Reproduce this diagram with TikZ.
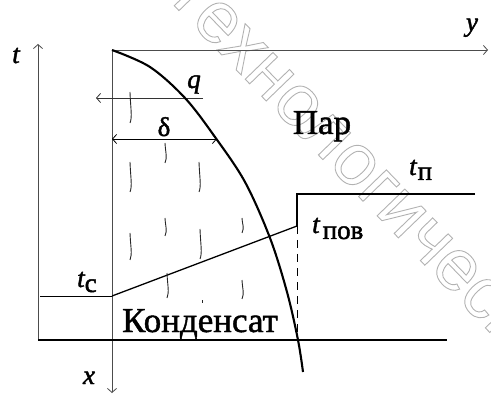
\documentclass[tikz,border=0pt]{standalone}
\usepackage{fontspec}
\setmainfont{Liberation Serif}
\newfontfamily\tms{Liberation Serif}
\newfontfamily\wmfont{Liberation Sans}
\usetikzlibrary{arrows.meta}
\begin{document}
\begin{tikzpicture}[x=1pt,y=-1pt,
  barb/.tip={Straight Barb[length=4pt,width=9pt,line width=0.8pt]},
  axisln/.style={line width=0.9pt, black!70},
  thinln/.style={line width=0.9pt, black},
  midln/.style={line width=1.3pt, black},
  curveln/.style={line width=2.1pt, black},
  dropln/.style={line width=0.9pt, black!85},
  heavy/.style={execute at begin node={\special{pdf:code 2 Tr 0.45 w}},
                execute at end node={\special{pdf:code 0 Tr}}},
  lab/.style={font=\tms\fontsize{27}{30}\selectfont\itshape, inner sep=0pt, heavy},
  big/.style={font=\tms\fontsize{35}{40}\selectfont, inner sep=0pt, heavy},
  wm/.style={font=\wmfont\fontsize{73}{80}\selectfont, inner sep=0pt, text=black!30}
]
\useasboundingbox (0,0) rectangle (491,396);
\begin{scope}
\clip (0,0) rectangle (491,396);
\node[wm, rotate=-46, anchor=base west] (wmark) at (161,-8)
  {\special{pdf:code 1 Tr 0.9 w}Технологический\special{pdf:code 0 Tr}};
\end{scope}

% key points
\coordinate (O) at (112,50);
\coordinate (tbot) at (38,340);
\coordinate (ttop) at (38,44);
\coordinate (xend) at (112,393);
\coordinate (yend) at (488,50);
\coordinate (bl) at (38,340);
\coordinate (br) at (447,340);
\coordinate (tcL) at (40,296);
\coordinate (tcR) at (112,296);
\coordinate (tpov) at (297,226);
\coordinate (tpTop) at (297,194);
\coordinate (tpR) at (475,194);
\coordinate (tpBot) at (297,340);
\coordinate (qR) at (203,98);
\coordinate (qL) at (96,98);
\coordinate (dL) at (112,139);
\coordinate (dR) at (217,139);

% axes
\draw[axisln, -barb] (tbot) -- (ttop);
\draw[axisln, -barb] (O) -- (xend);
\draw[axisln, -barb] (O) -- (yend);

% bottom line
\draw[midln] (bl) -- (br);

% temperature profile
\draw[thinln] (tcL) -- (tcR);
\draw[midln] (tcR) -- (tpov);
\draw[midln] (tpR) -- (tpTop) -- (tpov);
\draw[thinln, dash pattern=on 8pt off 6pt] (tpov) -- (tpBot);

% q and delta arrows
\draw[thinln, black!80, -barb] (qR) -- (qL);
\draw[thinln, barb-barb] (dL) -- (dR);

% condensate boundary
\draw[curveln] plot[smooth, tension=0.55] coordinates {(112,50) (150,67) (185,98) (215,137) (245,182) (270,238) (287,292) (298,340) (303,372)};

% drops
\foreach \x/\a/\b in {130/92/123, 165/143/163, 130/162/192, 199/162/192,
  165/218/236, 242/218/233, 130/233/260, 200/229/259, 167/273/298, 242/280/299}
  \draw[dropln] (\x,\a) .. controls (\x+0.5,\a+0.5*\b-0.5*\a) and (\x+2.5,\b-6) .. (\x,\b);
\draw[dropln] (202,300) -- (202,303);

% labels
\node[lab, anchor=base] (tl) at (16,63) {t};
\node[lab, anchor=base] (yl) at (472,31) {y};
\node[lab, anchor=base] (xl) at (89,384) {x};
\node[lab, anchor=base] (ql) at (194,88) {q};
\node[big, anchor=base, font=\tms\fontsize{27}{30}\selectfont] (dl) at (164,136) {δ};
\node[big, anchor=base] (par) at (322,134) {Пар};
\node[big, anchor=base] (kond) at (200,332) {Конденсат};
\node[lab, anchor=base west] (tp) at (409,175) {t\kern1pt\raisebox{-5pt}{\upshape п}};
\node[lab, anchor=base west] (tpv) at (312,233) {t\kern3pt\raisebox{-6pt}{\upshape пов}};
\node[lab, anchor=base west] (tc) at (77,287) {t\raisebox{-5pt}{\upshape с}};
\end{tikzpicture}
\end{document}
